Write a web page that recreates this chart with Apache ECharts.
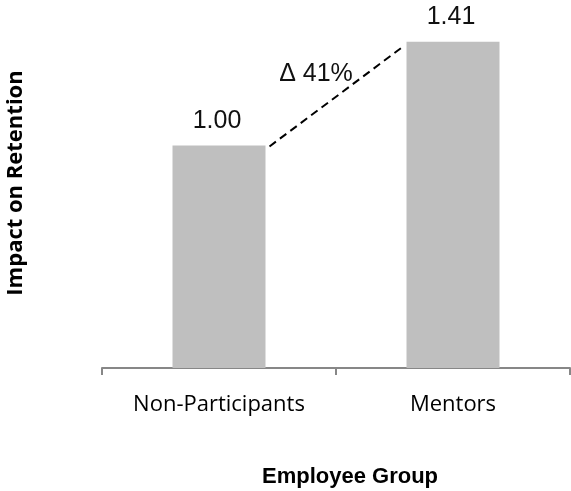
<!DOCTYPE html>
<html>
<head>
<meta charset="utf-8">
<script src="https://cdn.jsdelivr.net/npm/echarts@6/dist/echarts.min.js"></script>
<style>
  html, body { margin: 0; padding: 0; background: #fff; }
  #chart { width: 571px; height: 491px; }
</style>
</head>
<body>
<div id="chart"></div>
<script>
// Retention impact per employee group
const groups = ['Non-Participants', 'Mentors'];
const retentionImpact = [1.00, 1.41];

const chart = echarts.init(document.getElementById('chart'));

const barWidth = 93;
const axisGray = '#878787';
const liftPct = Math.round((retentionImpact[1] - retentionImpact[0]) / retentionImpact[0] * 100);

chart.setOption({
  animation: false,
  grid: { left: 102, right: 1, top: 19, bottom: 123 },
  xAxis: {
    type: 'category',
    data: groups,
    axisLine: { show: true, lineStyle: { color: axisGray, width: 2 } },
    axisTick: { show: true, length: 7, lineStyle: { color: axisGray, width: 2 } },
    axisLabel: {
      margin: 26,
      fontFamily: 'Open Sans',
      fontSize: 22,
      color: '#000'
    },
    splitLine: { show: false }
  },
  yAxis: {
    type: 'value',
    min: 0.12,
    max: 1.5,
    show: false
  },
  series: [
    {
      type: 'bar',
      data: retentionImpact,
      barWidth: barWidth,
      itemStyle: { color: '#bfbfbf' },
      label: {
        show: true,
        position: 'top',
        distance: 12,
        offset: [-2, 0],
        fontFamily: 'Liberation Sans',
        fontSize: 25,
        color: '#111',
        formatter: p => p.value.toFixed(2)
      }
    },
    {
      // dashed connector from the top of one bar to the next
      type: 'custom',
      silent: true,
      clip: false,
      data: [[retentionImpact[0], retentionImpact[1]]],
      renderItem: function (params, api) {
        const a = api.coord([0, api.value(0)]);
        const b = api.coord([1, api.value(1)]);
        return {
          type: 'line',
          shape: {
            x1: a[0] + barWidth / 2 + 4, y1: a[1] + 1,
            x2: b[0] - barWidth / 2 - 3, y2: b[1] + 4.5
          },
          style: { stroke: '#000', lineWidth: 2, lineDash: [8, 5], fill: null }
        };
      }
    }
  ],
  graphic: [
    {
      type: 'text',
      x: 316, y: 74,
      style: {
        text: '\u0394 ' + liftPct + '%',
        font: '25px "Liberation Sans", Arial, sans-serif',
        fill: '#111',
        align: 'center',
        verticalAlign: 'middle'
      }
    },
    {
      type: 'text',
      x: 350, y: 477,
      style: {
        text: 'Employee Group',
        font: 'bold 22px "Liberation Sans", Arial, sans-serif',
        fill: '#000',
        align: 'center',
        verticalAlign: 'middle'
      }
    },
    {
      type: 'text',
      x: 16, y: 183,
      rotation: Math.PI / 2,
      style: {
        text: 'Impact on Retention',
        font: 'bold 22px "Open Sans", sans-serif',
        fill: '#000',
        align: 'center',
        verticalAlign: 'middle'
      }
    }
  ]
});
</script>
</body>
</html>
